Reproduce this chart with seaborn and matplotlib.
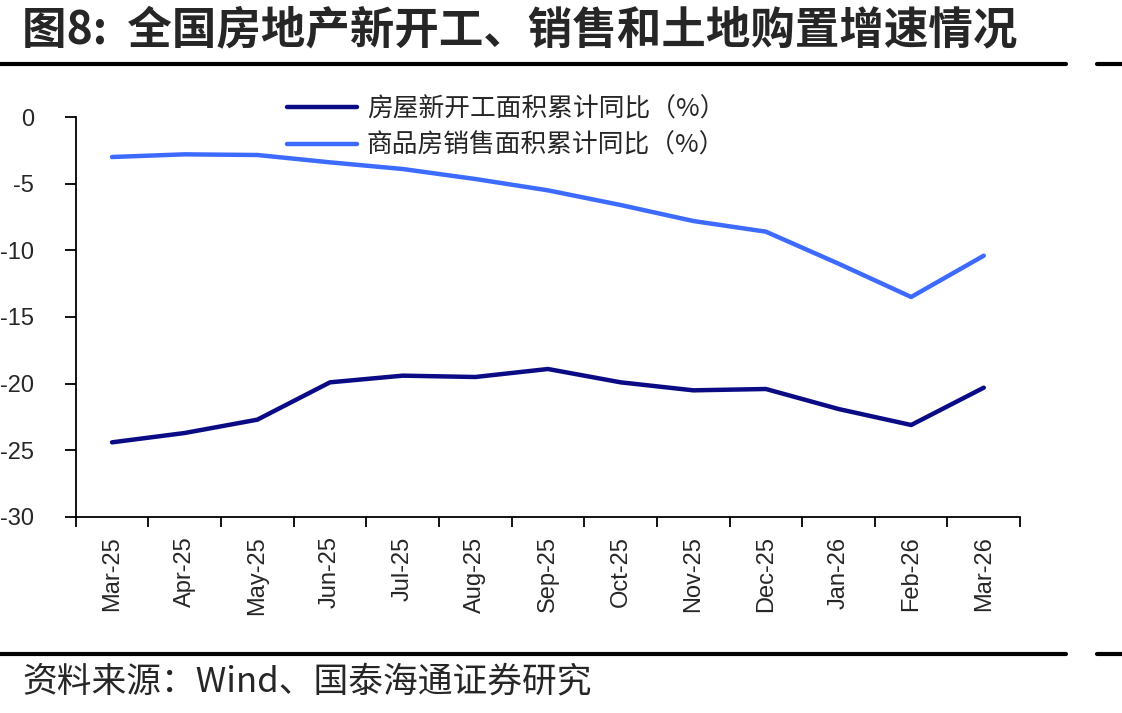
"""
全国房地产新开工、销售增速 - 折线图复刻
"""

import numpy as np
import pandas as pd
import matplotlib
matplotlib.use("Agg")
import matplotlib.pyplot as plt
from matplotlib.lines import Line2D
import seaborn as sns

# ─── Data ───────────────────────────────────────────────────────────────────
months = ["Mar-25", "Apr-25", "May-25", "Jun-25", "Jul-25", "Aug-25", "Sep-25",
          "Oct-25", "Nov-25", "Dec-25", "Jan-26", "Feb-26", "Mar-26"]
new_start = [-24.4, -23.7, -22.7, -19.9, -19.4, -19.5, -18.9,
             -19.9, -20.5, -20.4, -21.9, -23.1, -20.3]
sales_area = [-3.0, -2.8, -2.85, -3.4, -3.9, -4.65, -5.5,
              -6.6, -7.8, -8.6, -11.0, -13.5, -10.4]
series_names = ["房屋新开工面积累计同比（%）", "商品房销售面积累计同比（%）"]
y_ticks = [0, -5, -10, -15, -20, -25, -30]

title_text = "图8:  全国房地产新开工、销售和土地购置增速情况"
source_text = "资料来源：Wind、国泰海通证券研究"

# ─── Style ──────────────────────────────────────────────────────────────────
COLORS = {"dark": "#0B0B86", "light": "#3D6BFF", "text": "#000000"}

sns.set_style("white")
plt.rcParams["font.family"] = ["Liberation Sans", "Noto Sans CJK SC", "DejaVu Sans"]
CJK = ["Noto Sans CJK SC", "DejaVu Sans"]

df = pd.DataFrame({
    "idx": list(range(len(months))) * 2,
    "value": new_start + sales_area,
    "series": [series_names[0]] * len(months) + [series_names[1]] * len(months),
})

fig = plt.figure(figsize=(11.22, 7.13), dpi=100)
ax = fig.add_axes([0.0675, 0.2749, 0.9092 - 0.0675, 0.8359 - 0.2749])

sns.lineplot(data=df, x="idx", y="value", hue="series", hue_order=series_names,
             palette=[COLORS["dark"], COLORS["light"]], linewidth=3.2, ax=ax,
             legend=False)

ax.set_xlim(-0.5, len(months) - 0.5)
ax.set_ylim(-30, 0)
ax.set_yticks(y_ticks)
ax.set_yticklabels([str(v) for v in y_ticks], fontsize=17)
ax.set_xticks(range(len(months)))
ax.set_xticklabels(months, rotation=90, fontsize=17)
ax.set_xticks(np.arange(-0.5, len(months), 1.0), minor=True)
ax.tick_params(axis="x", which="major", bottom=True, length=0, pad=14)
ax.tick_params(axis="x", which="minor", bottom=True, length=7, width=1.3,
               direction="out", color="black")
ax.tick_params(axis="y", left=True, length=8, width=1.3, direction="out",
               color="black", pad=22)
ax.set_xlabel("")
ax.set_ylabel("")
for side in ["top", "right"]:
    ax.spines[side].set_visible(False)
for side in ["left", "bottom"]:
    ax.spines[side].set_color("black")
    ax.spines[side].set_linewidth(1.3)

handles = [Line2D([0], [0], color=COLORS["dark"], lw=3.2),
           Line2D([0], [0], color=COLORS["light"], lw=3.2)]
ax.legend(handles, series_names, loc="upper left", bbox_to_anchor=(0.224, 1.052),
          frameon=False, borderpad=0, borderaxespad=0, handlelength=2.7,
          handletextpad=0.4, labelspacing=0.42,
          prop={"family": CJK, "size": 18.5})

# ─── Title, rules, source ───────────────────────────────────────────────────
fig.text(22 / 1122, 1 - 30 / 713, title_text, ha="left", va="center",
         fontsize=32, fontweight="bold", family=CJK)
fig.text(22 / 1122, 1 - 682 / 713, source_text, ha="left", va="center",
         fontsize=25, family=CJK)

for ypx in [64, 654]:
    y = 1 - ypx / 713
    fig.add_artist(Line2D([0, 1066 / 1122], [y, y], color="black", lw=3,
                          transform=fig.transFigure))
    fig.add_artist(Line2D([1097 / 1122, 1], [y, y], color="black", lw=3,
                          transform=fig.transFigure))

fig.savefig("out.png", dpi=100, facecolor="white")
plt.close()
